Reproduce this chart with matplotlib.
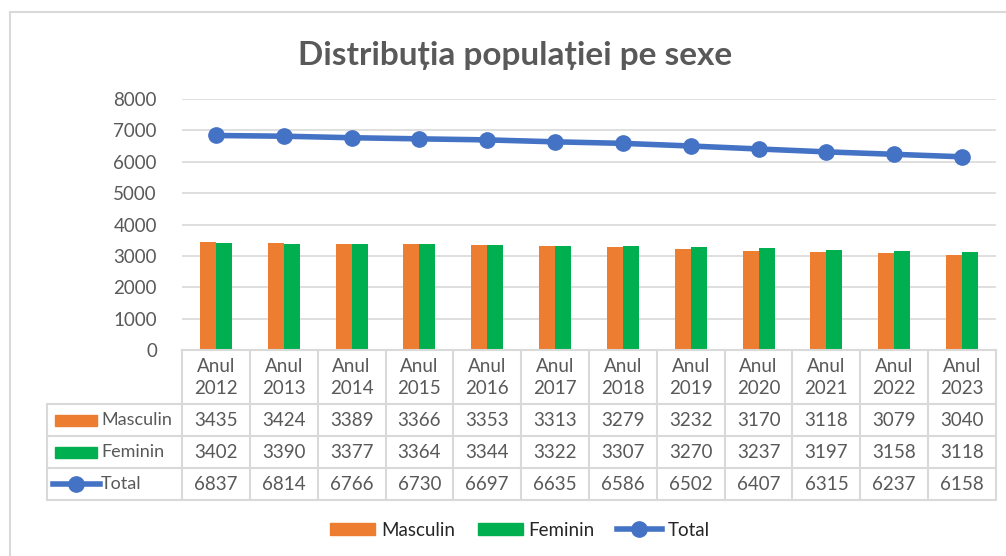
import matplotlib.pyplot as plt
import matplotlib.transforms as mtransforms
import numpy as np
from matplotlib.lines import Line2D
from matplotlib.patches import Patch, Rectangle

years = ["2012", "2013", "2014", "2015", "2016", "2017",
         "2018", "2019", "2020", "2021", "2022", "2023"]
masculin = [3435, 3424, 3389, 3366, 3353, 3313, 3279, 3232, 3170, 3118, 3079, 3040]
feminin = [3402, 3390, 3377, 3364, 3344, 3322, 3307, 3270, 3237, 3197, 3158, 3118]
total = [6837, 6814, 6766, 6730, 6697, 6635, 6586, 6502, 6407, 6315, 6237, 6158]
series_names = ["Masculin", "Feminin", "Total"]
yticks = list(range(0, 8001, 1000))

ORANGE = "#ED7D31"
GREEN = "#00B050"
BLUE = "#4472C4"
GRID = "#D9D9D9"
TEXT = "#595959"
FS = 13.5

plt.rcParams["font.family"] = ["Lato", "DejaVu Sans"]

W, H = 1006, 556
fig = plt.figure(figsize=(W / 100, H / 100), dpi=100)


def fx(px):
    return px / W


def fy(py):
    return 1 - py / H


# chart border (only left and top visible in the crop)
fig.patches.append(Rectangle((fx(10), fy(600)), fx(1100), fy(12) - fy(600),
                             transform=fig.transFigure, fill=False,
                             edgecolor=GRID, lw=1.5))

fig.text(fx(515), fy(55), "Distribuția populației pe sexe", ha="center",
         va="center", fontsize=24, fontweight="bold", color=TEXT)

ax = fig.add_axes([fx(182), fy(350), fx(996) - fx(182), fy(99) - fy(350)])
x = np.arange(len(years))
w = 0.236
ax.bar(x - w / 2, masculin, w, color=ORANGE, zorder=2)
ax.bar(x + w / 2, feminin, w, color=GREEN, zorder=2)
ax.plot(x, total, color=BLUE, lw=4, marker="o", ms=11, zorder=3)

ax.set_xlim(-0.5, len(years) - 0.5)
ax.set_ylim(0, 8000)
ax.set_yticks(yticks)
ax.set_yticklabels([str(t) for t in yticks], fontsize=FS, color=TEXT)
ax.tick_params(axis="y", length=0, pad=18)
ax.set_xticks([])
ax.grid(axis="y", color=GRID, lw=1.2, zorder=0)
for s in ["top", "right", "left"]:
    ax.spines[s].set_visible(False)
ax.spines["bottom"].set_color(GRID)
ax.spines["bottom"].set_linewidth(1.5)

# data table below the plot
tr = mtransforms.blended_transform_factory(ax.transData, fig.transFigure)
row_y = [350, 404, 436, 468, 500]
line_kw = dict(color=GRID, lw=1.5, clip_on=False)
for yy in row_y[1:]:
    fig.add_artist(Line2D([fx(47), fx(996)], [fy(yy), fy(yy)],
                          transform=fig.transFigure, **line_kw))
for i in range(len(years) + 1):
    ax.add_line(Line2D([i - 0.5, i - 0.5], [fy(350), fy(500)],
                       transform=tr, **line_kw))
fig.add_artist(Line2D([fx(47), fx(47)], [fy(404), fy(500)],
                      transform=fig.transFigure, **line_kw))

for i, yr in enumerate(years):
    ax.text(i, fy(366), "Anul", transform=tr, ha="center", va="center",
            fontsize=FS, color=TEXT)
    ax.text(i, fy(389), yr, transform=tr, ha="center", va="center",
            fontsize=FS, color=TEXT)

for r, vals in enumerate([masculin, feminin, total]):
    yc = (row_y[r + 1] + row_y[r + 2]) / 2
    for i, v in enumerate(vals):
        ax.text(i, fy(yc), str(v), transform=tr, ha="center", va="center",
                fontsize=FS, color=TEXT)
    fig.text(fx(101), fy(yc), series_names[r], ha="left", va="center",
             fontsize=13, color=TEXT)

# legend keys inside the table
fig.patches.append(Rectangle((fx(55), fy(426)), fx(42), fy(415) - fy(426),
                             transform=fig.transFigure, color=ORANGE))
fig.patches.append(Rectangle((fx(55), fy(458)), fx(42), fy(447) - fy(458),
                             transform=fig.transFigure, color=GREEN))
fig.add_artist(Line2D([fx(53), fx(100)], [fy(484), fy(484)],
                      transform=fig.transFigure, color=BLUE, lw=4))
fig.add_artist(Line2D([fx(76)], [fy(484)], transform=fig.transFigure,
                      color=BLUE, marker="o", ms=11))

handles = [Patch(color=ORANGE), Patch(color=GREEN),
           Line2D([], [], color=BLUE, lw=4, marker="o", ms=11)]
fig.legend(handles, series_names, loc="center", bbox_to_anchor=(fx(520), fy(530)),
           ncol=3, frameon=False, fontsize=FS, handlelength=2.4, handleheight=0.55,
           handletextpad=0.3, columnspacing=1.2, labelcolor="#262626")

fig.savefig("out.png", dpi=100)
